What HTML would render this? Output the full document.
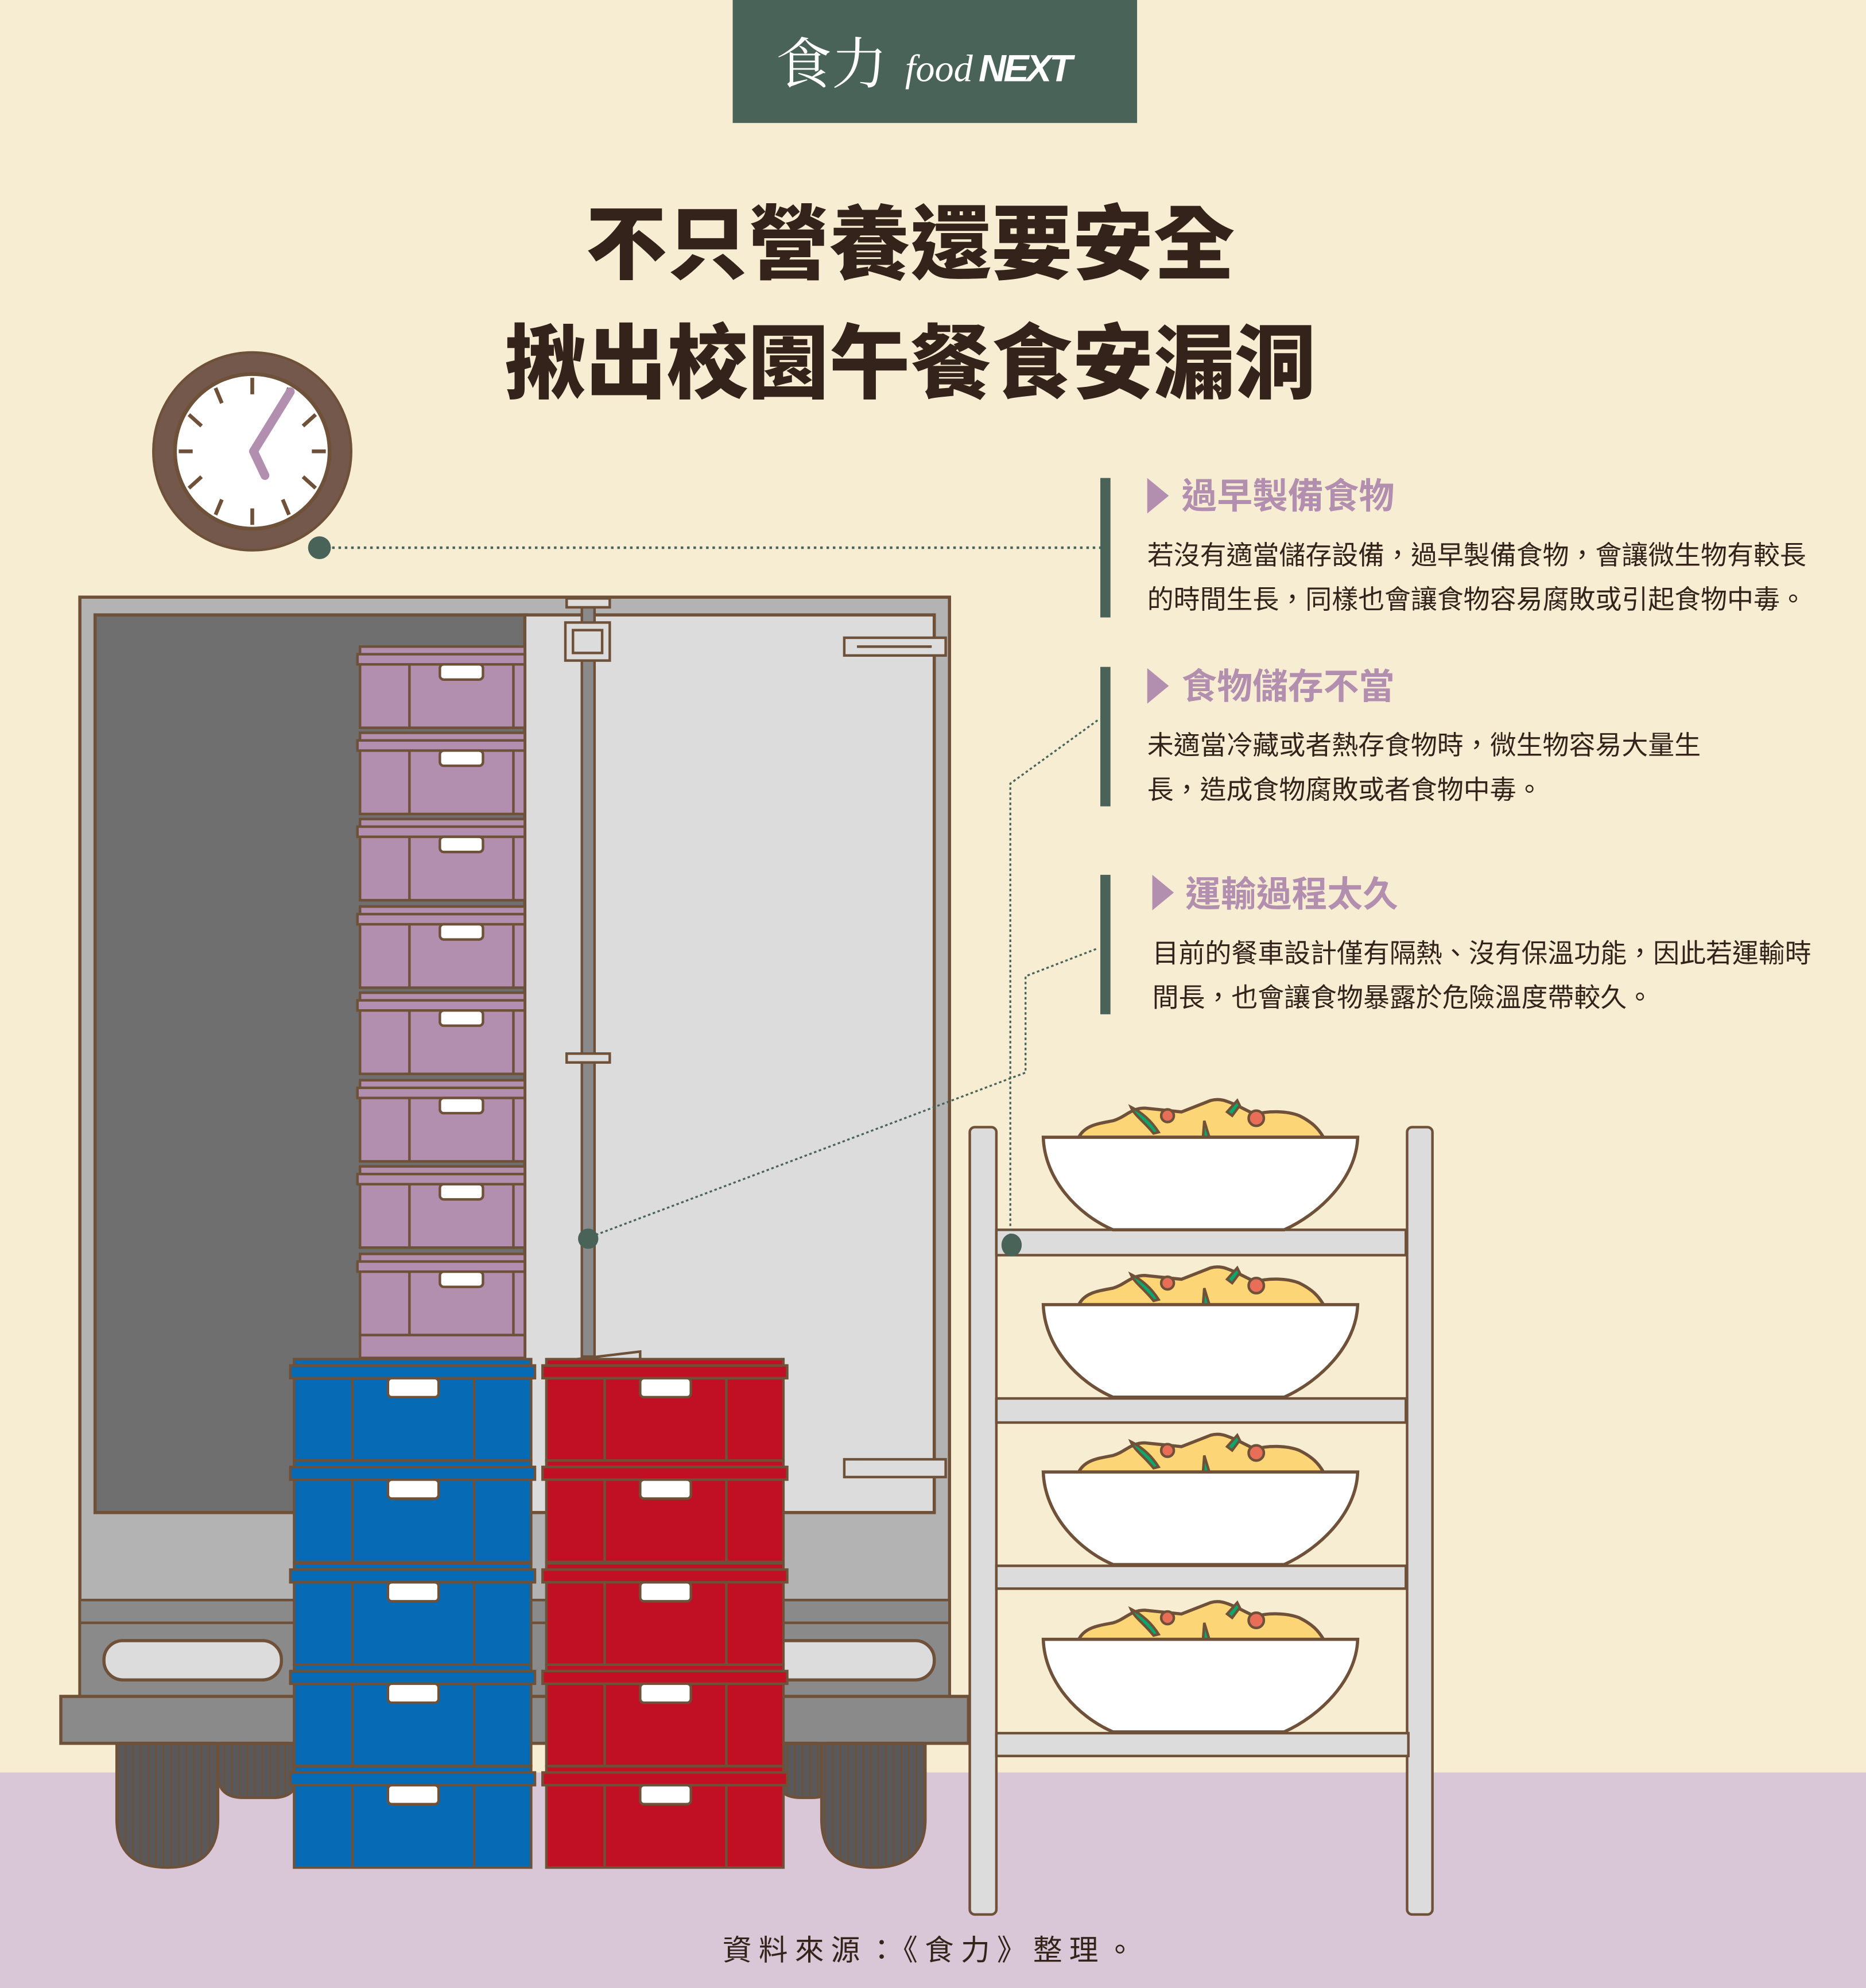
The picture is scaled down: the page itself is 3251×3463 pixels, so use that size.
<!DOCTYPE html>
<html><head><meta charset="utf-8"><style>
html,body{margin:0;padding:0;background:#f7edd3;}
svg{display:block;}
</style></head><body>
<svg width="3251" height="3463" viewBox="0 0 1472 1568" preserveAspectRatio="none" xmlns="http://www.w3.org/2000/svg">
<defs>
<pattern id="tire" width="6" height="10" patternUnits="userSpaceOnUse"><rect width="6" height="10" fill="#5a5858"/><line x1="3" y1="0" x2="3" y2="10" stroke="#6e5138" stroke-width="1"/></pattern>
<g id="pbox">
<rect x="0" y="4" width="130" height="64" fill="#b28eaf" stroke="#6e5138" stroke-width="2"/>
<rect x="-2" y="10" width="132" height="8" fill="#b28eaf" stroke="#6e5138" stroke-width="2"/>
<line x1="39" y1="18" x2="39" y2="68" stroke="#6e5138" stroke-width="2"/>
<line x1="121" y1="18" x2="121" y2="68" stroke="#6e5138" stroke-width="2"/>
<rect x="63" y="18" width="34" height="12" rx="3" fill="#fff" stroke="#6e5138" stroke-width="2"/>
</g>
<g id="bbox">
<rect x="0" y="0" width="187" height="80" fill="#066bb4" stroke="#6e5138" stroke-width="2"/>
<rect x="-3" y="5" width="193" height="10" fill="#066bb4" stroke="#6e5138" stroke-width="2"/>
<line x1="46" y1="15" x2="46" y2="80" stroke="#6e5138" stroke-width="2"/>
<line x1="142" y1="15" x2="142" y2="80" stroke="#6e5138" stroke-width="2"/>
<rect x="74" y="15" width="40" height="15" rx="3" fill="#fff" stroke="#6e5138" stroke-width="2"/>
</g>
<g id="rbox">
<rect x="0" y="0" width="187" height="80" fill="#c10f23" stroke="#6e5138" stroke-width="2"/>
<rect x="-3" y="5" width="193" height="10" fill="#c10f23" stroke="#6e5138" stroke-width="2"/>
<line x1="46" y1="15" x2="46" y2="80" stroke="#6e5138" stroke-width="2"/>
<line x1="142" y1="15" x2="142" y2="80" stroke="#6e5138" stroke-width="2"/>
<rect x="74" y="15" width="40" height="15" rx="3" fill="#fff" stroke="#6e5138" stroke-width="2"/>
</g>
<g id="bowl">
<path d="M851,897 C856,887 868,886 878,884 C888,881 892,874 903,874 L932,877 L955,868 C962,866 967,868 976,872 L990,879 C1000,876 1015,876 1025,880 C1035,885 1040,890 1044,897 Z" fill="#fcd577" stroke="#6e5138" stroke-width="2.5"/>
<path d="M892,873 C898,876 907,882 914,893 L910,894 C902,884 895,880 892,873 Z" fill="#0aa86b" stroke="#6e5138" stroke-width="2"/>
<path d="M950,884 L954,897 L949,897 Z" fill="#0aa86b" stroke="#6e5138" stroke-width="2"/>
<path d="M968,877 L976,868 L978,872 L972,880 Z" fill="#0aa86b" stroke="#6e5138" stroke-width="2"/>
<circle cx="921" cy="880" r="5" fill="#e86e58" stroke="#6e5138" stroke-width="2"/>
<circle cx="991" cy="882" r="6" fill="#e86e58" stroke="#6e5138" stroke-width="2"/>
<path d="M823,897 L1071,897 C1070,930 1040,958 1013,970 L878,970 C850,958 824,930 823,897 Z" fill="#fff" stroke="#6e5138" stroke-width="2.5"/>
</g>
</defs>

<rect x="0" y="0" width="1472" height="1568" fill="#f7edd3"/>
<rect x="0" y="1398" width="1472" height="170" fill="#d9c6d6"/>

<!-- header -->
<rect x="578" y="0" width="319" height="97" fill="#4a6358"/>
<text x="612" y="66" font-family="'Liberation Serif','Noto Serif CJK SC',serif" font-size="44" fill="#fff">食力</text>
<text x="714" y="64" font-family="'Liberation Serif',serif" font-style="italic" font-size="30" fill="#fff">food</text>
<text x="772" y="64" font-family="'Liberation Sans',sans-serif" font-style="italic" font-weight="bold" font-size="30" fill="#fff" letter-spacing="-2">NEXT</text>

<!-- title -->
<text x="718" y="215" text-anchor="middle" font-family="'Liberation Sans','Noto Sans CJK TC',sans-serif" font-weight="900" font-size="64" fill="#33231a">不只營養還要安全</text>
<text x="718" y="309" text-anchor="middle" font-family="'Liberation Sans','Noto Sans CJK TC',sans-serif" font-weight="900" font-size="64" fill="#33231a">揪出校園午餐食安漏洞</text>

<!-- clock -->
<circle cx="199" cy="356" r="78" fill="#74584c" stroke="#6e5138" stroke-width="2"/>
<circle cx="199" cy="356" r="61" fill="#fff" stroke="#6e5138" stroke-width="3"/>
<g stroke="#6e5138" stroke-width="3">
<line x1="199" y1="298" x2="199" y2="311"/><line x1="199" y1="401" x2="199" y2="414"/>
<line x1="141" y1="356" x2="152" y2="356"/><line x1="246" y1="356" x2="257" y2="356"/>
<line x1="170" y1="306" x2="175" y2="318"/><line x1="228" y1="306" x2="223" y2="318"/>
<line x1="170" y1="406" x2="175" y2="394"/><line x1="228" y1="406" x2="223" y2="394"/>
<line x1="149" y1="327" x2="159" y2="336"/><line x1="249" y1="327" x2="239" y2="336"/>
<line x1="149" y1="385" x2="159" y2="376"/><line x1="249" y1="385" x2="239" y2="376"/>
</g>
<polyline points="229,309 200,356 209,375" fill="none" stroke="#b28eaf" stroke-width="7" stroke-linecap="round" stroke-linejoin="round"/>
<ellipse cx="252" cy="432" rx="9" ry="9" fill="#4a6358"/>
<line x1="262" y1="432" x2="868" y2="432" stroke="#4a6358" stroke-width="2" stroke-dasharray="2,3"/>

<!-- truck -->
<rect x="63" y="471" width="686" height="870" fill="#b3b3b3" stroke="#6e5138" stroke-width="2.5"/>
<rect x="75" y="485" width="340" height="708" fill="#6f6f6f" stroke="#6e5138" stroke-width="2.5"/>
<rect x="414" y="485" width="323" height="708" fill="#dcdcdc" stroke="#6e5138" stroke-width="2.5"/>
<rect x="63" y="1262" width="686" height="18" fill="#8a8a8a" stroke="#6e5138" stroke-width="2"/>
<rect x="63" y="1280" width="686" height="60" fill="#8a8a8a" stroke="#6e5138" stroke-width="2"/>
<rect x="82" y="1294" width="140" height="31" rx="15" fill="#dcdcdc" stroke="#6e5138" stroke-width="2.5"/>
<rect x="598" y="1294" width="139" height="31" rx="15" fill="#dcdcdc" stroke="#6e5138" stroke-width="2.5"/>
<!-- wheels -->
<path d="M172,1375 L235,1375 L235,1400 Q235,1418 215,1418 L192,1418 Q172,1418 172,1400 Z" fill="url(#tire)" stroke="#6e5138" stroke-width="2"/>
<path d="M92,1375 L172,1375 L172,1435 Q172,1473 132,1473 Q92,1473 92,1435 Z" fill="url(#tire)" stroke="#6e5138" stroke-width="2"/>
<path d="M612,1375 L660,1375 L660,1400 Q660,1418 640,1418 L632,1418 Q612,1418 612,1400 Z" fill="url(#tire)" stroke="#6e5138" stroke-width="2"/>
<path d="M648,1375 L730,1375 L730,1435 Q730,1473 689,1473 Q648,1473 648,1435 Z" fill="url(#tire)" stroke="#6e5138" stroke-width="2"/>
<rect x="48" y="1338" width="716" height="37" fill="#8a8a8a" stroke="#6e5138" stroke-width="2.5"/>
<!-- door hardware -->
<rect x="459" y="475" width="10" height="595" fill="#8a8a8a" stroke="#6e5138" stroke-width="2"/>
<rect x="447" y="472" width="34" height="7" fill="#dcdcdc" stroke="#6e5138" stroke-width="2"/>
<rect x="446" y="491" width="35" height="30" fill="#dcdcdc" stroke="#6e5138" stroke-width="2"/>
<rect x="452" y="497" width="23" height="18" fill="#dcdcdc" stroke="#6e5138" stroke-width="2"/>
<rect x="447" y="831" width="34" height="7" fill="#dcdcdc" stroke="#6e5138" stroke-width="2"/>
<rect x="666" y="503" width="80" height="14" fill="#dcdcdc" stroke="#6e5138" stroke-width="2"/>
<line x1="676" y1="510" x2="735" y2="510" stroke="#6e5138" stroke-width="2"/>
<rect x="666" y="1151" width="80" height="14" fill="#dcdcdc" stroke="#6e5138" stroke-width="2"/>
<circle cx="464" cy="977" r="8" fill="#4a6358"/>

<!-- purple boxes -->
<use href="#pbox" x="284" y="506"/>
<use href="#pbox" x="284" y="574"/>
<use href="#pbox" x="284" y="642"/>
<use href="#pbox" x="284" y="711"/>
<use href="#pbox" x="284" y="779"/>
<use href="#pbox" x="284" y="848"/>
<use href="#pbox" x="284" y="916"/>
<use href="#pbox" x="284" y="985"/>
<rect x="284" y="1053" width="130" height="18" fill="#b28eaf" stroke="#6e5138" stroke-width="2"/>
<polygon points="455,1072 505,1066 505,1072" fill="none" stroke="#6e5138" stroke-width="2"/>

<!-- blue/red boxes -->
<use href="#bbox" x="232" y="1072"/><use href="#bbox" x="232" y="1152"/><use href="#bbox" x="232" y="1233"/><use href="#bbox" x="232" y="1313"/><use href="#bbox" x="232" y="1393"/>
<use href="#rbox" x="431" y="1072"/><use href="#rbox" x="431" y="1152"/><use href="#rbox" x="431" y="1233"/><use href="#rbox" x="431" y="1313"/><use href="#rbox" x="431" y="1393"/>

<!-- shelf -->
<rect x="765" y="889" width="21" height="621" rx="4" fill="#dcdcdc" stroke="#6e5138" stroke-width="2"/>
<rect x="1110" y="889" width="20" height="621" rx="4" fill="#dcdcdc" stroke="#6e5138" stroke-width="2"/>
<rect x="786" y="970" width="323" height="20" fill="#dcdcdc" stroke="#6e5138" stroke-width="2"/>
<rect x="786" y="1103" width="323" height="19" fill="#dcdcdc" stroke="#6e5138" stroke-width="2"/>
<rect x="786" y="1235" width="323" height="18" fill="#dcdcdc" stroke="#6e5138" stroke-width="2"/>
<rect x="786" y="1367" width="325" height="18" fill="#dcdcdc" stroke="#6e5138" stroke-width="2"/>
<use href="#bowl" x="0" y="0"/>
<use href="#bowl" x="0" y="132"/>
<use href="#bowl" x="0" y="264"/>
<use href="#bowl" x="0" y="396"/>
<ellipse cx="798" cy="982" rx="8" ry="9" fill="#4a6358"/>

<!-- connectors -->
<polyline points="797,975 797,618 866,568" fill="none" stroke="#4a6358" stroke-width="1.5" stroke-dasharray="2,2"/>
<polyline points="470,974 809,846 809,770 866,748" fill="none" stroke="#4a6358" stroke-width="1.5" stroke-dasharray="2,2"/>

<!-- text panel -->
<rect x="868" y="377" width="8" height="110" fill="#4a6358"/>
<rect x="868" y="526" width="8" height="110" fill="#4a6358"/>
<rect x="868" y="690" width="8" height="110" fill="#4a6358"/>
<g font-family="'Liberation Sans','Noto Sans CJK TC',sans-serif">
<polygon points="905,377 922,391 905,405" fill="#b28eaf"/>
<text x="932" y="401" font-size="28" font-weight="bold" fill="#b28eaf">過早製備食物</text>
<text x="905" y="445" font-size="20.8" fill="#33231a">若沒有適當儲存設備，過早製備食物，會讓微生物有較長</text>
<text x="905" y="480" font-size="20.8" fill="#33231a">的時間生長，同樣也會讓食物容易腐敗或引起食物中毒。</text>
<polygon points="905,527 922,541 905,555" fill="#b28eaf"/>
<text x="932" y="551" font-size="28" font-weight="bold" fill="#b28eaf">食物儲存不當</text>
<text x="905" y="595" font-size="20.8" fill="#33231a">未適當冷藏或者熱存食物時，微生物容易大量生</text>
<text x="905" y="630" font-size="20.8" fill="#33231a">長，造成食物腐敗或者食物中毒。</text>
<polygon points="909,690 926,704 909,718" fill="#b28eaf"/>
<text x="935" y="715" font-size="28" font-weight="bold" fill="#b28eaf">運輸過程太久</text>
<text x="909" y="759" font-size="20.8" fill="#33231a">目前的餐車設計僅有隔熱、沒有保溫功能，因此若運輸時</text>
<text x="909" y="794" font-size="20.8" fill="#33231a">間長，也會讓食物暴露於危險溫度帶較久。</text>
<text x="570" y="1546" font-size="23" fill="#33231a" letter-spacing="5.5">資料來源：《食力》整理。</text>
</g>
</svg>
</body></html>
